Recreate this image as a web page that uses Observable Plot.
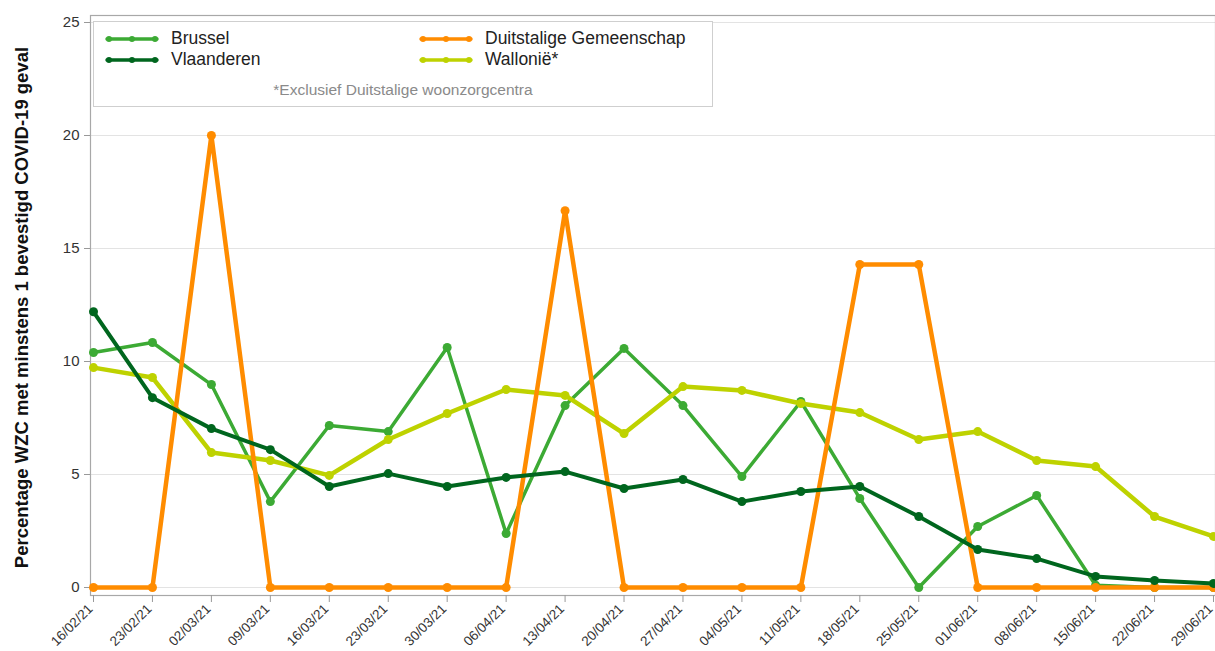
<!DOCTYPE html>
<html>
<head>
<meta charset="utf-8">
<script src="https://cdn.jsdelivr.net/npm/d3@7"></script>
<script src="https://cdn.jsdelivr.net/npm/@observablehq/plot@0.6"></script>
<style>
  html, body { margin: 0; padding: 0; background: #fff; }
  #wrap { position: relative; width: 1215px; height: 651px; font-family: "Liberation Sans", Arial, sans-serif; }
  #legend { position: absolute; left: 93px; top: 21px; width: 618px; height: 84px; border: 1px solid #cfcfcf; background: #fff; box-sizing: content-box; }
  .item { position: absolute; display: flex; align-items: center; font-size: 17.5px; color: #222; white-space: nowrap; }
  .item svg { margin-right: 12px; }
  #note { position: absolute; left: 0; width: 100%; top: 59px; text-align: center; font-size: 15.5px; color: #8a8a8a; }
</style>
</head>
<body>
<div id="wrap"></div>
<script>
const dates = ["16/02/21","23/02/21","02/03/21","09/03/21","16/03/21","23/03/21","30/03/21","06/04/21","13/04/21","20/04/21","27/04/21","04/05/21","11/05/21","18/05/21","25/05/21","01/06/21","08/06/21","15/06/21","22/06/21","29/06/21"];
const brussel     = [10.4, 10.84, 8.98, 3.8, 7.17, 6.9, 10.62, 2.39, 8.05, 10.58, 8.05, 4.91, 8.23, 3.94, 0, 2.7, 4.07, 0.1, 0, 0];
const vlaanderen  = [12.2, 8.4, 7.03, 6.1, 4.47, 5.04, 4.47, 4.87, 5.13, 4.38, 4.78, 3.8, 4.25, 4.47, 3.14, 1.68, 1.28, 0.49, 0.31, 0.18];
const duitstalige = [0, 0, 20, 0, 0, 0, 0, 0, 16.67, 0, 0, 0, 0, 14.29, 14.29, 0, 0, 0, 0, 0];
const wallonie    = [9.73, 9.29, 5.97, 5.62, 4.96, 6.55, 7.7, 8.76, 8.5, 6.81, 8.89, 8.72, 8.14, 7.74, 6.55, 6.9, 5.62, 5.35, 3.14, 2.26];
const yTicks = [0, 5, 10, 15, 20, 25];
const seriesNames = ["Brussel", "Vlaanderen", "Duitstalige Gemeenschap", "Wallonië*"];
const colors = {"Brussel": "#3caa34", "Vlaanderen": "#00661e", "Duitstalige Gemeenschap": "#ff8c00", "Wallonië*": "#bed200"};
const yLabel = "Percentage WZC met minstens 1 bevestigd COVID-19 geval";
const note = "*Exclusief Duitstalige woonzorgcentra";

const seriesValues = {"Brussel": brussel, "Vlaanderen": vlaanderen, "Duitstalige Gemeenschap": duitstalige, "Wallonië*": wallonie};
const drawOrder = ["Brussel", "Wallonië*", "Duitstalige Gemeenschap", "Vlaanderen"];
const widths = {"Brussel": 3.5, "Vlaanderen": 4, "Duitstalige Gemeenschap": 4.5, "Wallonië*": 4.5};

const marks = [
  Plot.gridY(yTicks, {stroke: "#e3e3e3", strokeOpacity: 1, strokeWidth: 1.2}),
  Plot.frame({stroke: "#a8a8a8", strokeWidth: 1.2}),
  Plot.axisY(yTicks, {tickSize: 6, tickPadding: 5, fontSize: 15, stroke: "#999", fill: "#333", label: null}),
  // tick marks
  Plot.axisX(dates, {tickSize: 7, tickFormat: () => "", stroke: "#999", label: null}),
  // rotated tick labels
  Plot.axisX(dates, {tickSize: 0, tickPadding: 11, dx: -3, tickRotate: -45, fontSize: 13.5, fill: "#333", label: null}),
  Plot.text([yLabel], {frameAnchor: "left", dx: -68, dy: 2, rotate: -90, text: d => d, fontSize: 18.5, fontWeight: "bold", fill: "#111", textAnchor: "middle"})
];
for (const name of drawOrder) {
  const data = dates.map((d, i) => ({date: d, value: seriesValues[name][i]}));
  marks.push(Plot.line(data, {x: "date", y: "value", stroke: colors[name], strokeWidth: widths[name], strokeLinejoin: "round"}));
  marks.push(Plot.dot(data, {x: "date", y: "value", fill: colors[name], r: 4.5}));
}

const chart = Plot.plot({
  width: 1215,
  height: 651,
  marginLeft: 90,
  marginRight: 0,
  marginTop: 15,
  marginBottom: 56,
  style: {fontFamily: "Liberation Sans, Arial, sans-serif", fontSize: "13px", background: "#fff"},
  x: {type: "point", domain: dates, range: [93, 1213], padding: 0, round: false},
  y: {domain: [0, 25], insetTop: 7, insetBottom: 8},
  marks
});

const wrap = document.getElementById("wrap");
wrap.appendChild(chart);

// legend overlay
const legend = document.createElement("div");
legend.id = "legend";
const pos = [
  {name: "Brussel", left: 11, top: 6},
  {name: "Vlaanderen", left: 11, top: 27},
  {name: "Duitstalige Gemeenschap", left: 325, top: 6},
  {name: "Wallonië*", left: 325, top: 27}
];
for (const p of pos) {
  const it = document.createElement("div");
  it.className = "item";
  it.style.left = p.left + "px";
  it.style.top = p.top + "px";
  const c = colors[p.name];
  it.innerHTML = `<svg width="54" height="10"><line x1="2" y1="5" x2="52" y2="5" stroke="${c}" stroke-width="3.5" stroke-linecap="round"/><circle cx="4" cy="5" r="3" fill="${c}"/><circle cx="27" cy="5" r="3" fill="${c}"/><circle cx="50" cy="5" r="3" fill="${c}"/></svg><span>${p.name}</span>`;
  legend.appendChild(it);
}
const n = document.createElement("div");
n.id = "note";
n.textContent = note;
legend.appendChild(n);
wrap.appendChild(legend);
</script>
</body>
</html>
